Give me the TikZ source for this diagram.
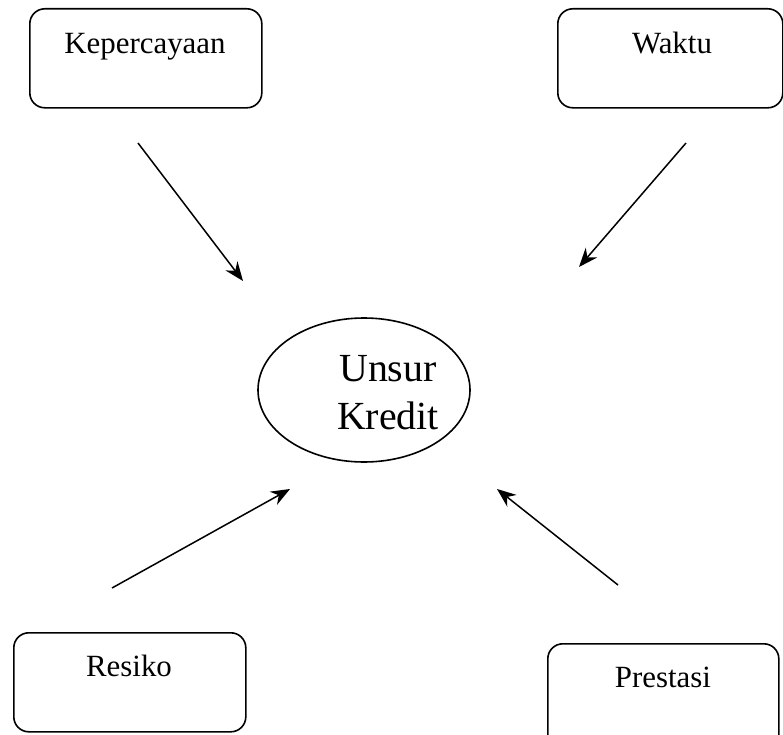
\documentclass[tikz,border=0pt]{standalone}
\usepackage{fontspec}
\setmainfont{Liberation Serif}
\usetikzlibrary{arrows.meta}
\begin{document}
\begin{tikzpicture}[x=1bp,y=-1bp,
  box/.style={draw, line width=1.6bp, rounded corners=15bp, inner sep=0pt},
  lbl/.style={font=\fontsize{31}{37}\selectfont, anchor=base, inner sep=0pt},
  conn/.style={line width=1.5bp, -{Stealth[length=19bp,width=15bp]}}]
\useasboundingbox (0,0) rectangle (783,735);
% boxes
\node[box, minimum width=232bp, minimum height=99bp, anchor=north west] (kb) at (29,8) {};
\node[lbl] (kt) at (145,54) {Kepercayaan};
\node[box, minimum width=225bp, minimum height=99bp, anchor=north west] (wb) at (557,8) {};
\node[lbl] (wt) at (672,54) {Waktu};
\node[box, minimum width=232bp, minimum height=99bp, anchor=north west] (rb) at (13,632) {};
\node[lbl] (rt) at (129,676) {Resiko};
\node[box, minimum width=231bp, minimum height=110bp, anchor=north west] (pb) at (547,643) {};
\node[lbl] (pt) at (663,687) {Prestasi};
% ellipse
\draw[line width=1.6bp] (364,390) ellipse [x radius=106, y radius=72];
\node[font=\fontsize{40}{48}\selectfont, align=center, inner sep=0pt] (u) at (388,393) {Unsur\\Kredit};
% arrows
\coordinate (a1s) at (138,143); \coordinate (a1e) at (243,281);
\coordinate (a2s) at (686,143); \coordinate (a2e) at (579,267);
\coordinate (a3s) at (112,588); \coordinate (a3e) at (290,489);
\coordinate (a4s) at (618,585); \coordinate (a4e) at (497,489);
\draw[conn] (a1s) -- (a1e);
\draw[conn] (a2s) -- (a2e);
\draw[conn] (a3s) -- (a3e);
\draw[conn] (a4s) -- (a4e);
\end{tikzpicture}
\end{document}
